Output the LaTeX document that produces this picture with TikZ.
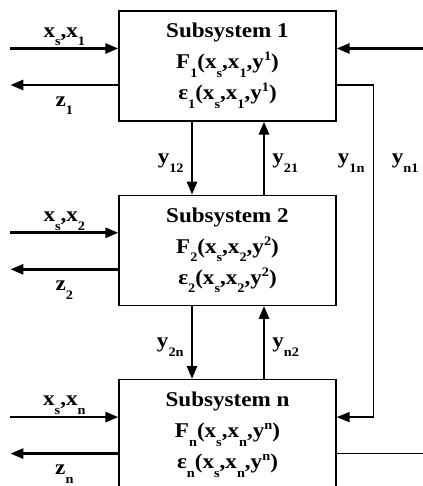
\documentclass[tikz,border=0pt]{standalone}
\usepackage{fontspec}
\setmainfont{Liberation Serif}[FakeStretch=1.1]
\usepackage{tikz}
\usetikzlibrary{arrows.meta,positioning,calc}
\newcommand{\lowidx}[1]{\raisebox{-0.42em}{\fontsize{13}{13}\selectfont #1}}
\newcommand{\highidx}[1]{\raisebox{0.38em}{\fontsize{13}{13}\selectfont #1}}

\begin{document}
\begin{tikzpicture}[
  x=1pt,y=1pt,
  box/.style={draw,line width=1.3pt,align=center,minimum width=217pt,minimum height=110pt,inner sep=0pt,font=\bfseries\fontsize{21}{31}\selectfont},
  arr/.style={-{Triangle[length=13pt,width=10pt]},line width=2.8pt},
  wire/.style={line width=1.6pt},
  lab/.style={font=\bfseries\fontsize{21}{24}\selectfont,inner sep=1pt}
]
\useasboundingbox (0,0) rectangle (422,486);
\node[box] (sub1) at (227.5,420) {Subsystem 1\\F\lowidx{1}(x\lowidx{s},x\lowidx{1},y\highidx{1})\\ε\lowidx{1}(x\lowidx{s},x\lowidx{1},y\highidx{1})};
\node[box,below=73pt of sub1] (sub2) {Subsystem 2\\F\lowidx{2}(x\lowidx{s},x\lowidx{2},y\highidx{2})\\ε\lowidx{2}(x\lowidx{s},x\lowidx{2},y\highidx{2})};
\node[box,below=73pt of sub2] (sub3) {Subsystem n\\F\lowidx{n}(x\lowidx{s},x\lowidx{n},y\highidx{n})\\ε\lowidx{n}(x\lowidx{s},x\lowidx{n},y\highidx{n})};

% inputs and outputs on the left
\foreach \b/\k in {sub1/1,sub2/2,sub3/n}{
  \coordinate (\b-in) at ($(\b.west)+(-108,17.5)$);
  \coordinate (\b-out) at ($(\b.west)+(-108,-19)$);
  \draw[arr] (\b-in) -- node[lab,above=0pt] (\b-xl) {x\lowidx{s},x\lowidx{\k}} (\b.west |- \b-in);
  \draw[arr] (\b.west |- \b-out) -- node[lab,below=9pt] (\b-zl) {z\lowidx{\k}} (\b-out);
}

% couplings between neighbours
\draw[arr] ($(sub1.south)+(-35.5,0)$) -- node[lab,left=6pt,yshift=-5pt] (l12) {y\lowidx{12}} ($(sub2.north)+(-35.5,0)$);
\draw[arr] ($(sub2.north)+(36.5,0)$) -- node[lab,right=6pt,yshift=-5pt] (l21) {y\lowidx{21}} ($(sub1.south)+(36.5,0)$);
\draw[arr] ($(sub2.south)+(-35.5,0)$) -- node[lab,left=6pt,yshift=-5pt] (l2n) {y\lowidx{2n}} ($(sub3.north)+(-35.5,0)$);
\draw[arr] ($(sub3.north)+(36.5,0)$) -- node[lab,right=6pt,yshift=-5pt] (ln2) {y\lowidx{n2}} ($(sub2.south)+(36.5,0)$);

% right side
\coordinate (rin) at ($(sub1.east)+(86,17.5)$);
\coordinate (c1) at ($(sub1.east)+(37,-19)$);
\coordinate (c2) at (c1 |- sub3-in);
\coordinate (rout) at ($(sub3.east)+(86,-19)$);
\draw[arr] (rin) -- (sub1.east |- rin);
\draw[wire,-{Triangle[length=13pt,width=10pt]}] (sub1.east |- c1) -- (c1) -- (c2) -- (sub3.east |- c2);
\draw[wire] (sub3.east |- rout) -- (rout);
\coordinate (cm) at (c1 |- l12);
\node[lab,left=8pt of cm] (l1n) {y\lowidx{1n}};
\node[lab,right=17pt of cm] (ln1) {y\lowidx{n1}};
\end{tikzpicture}
\end{document}
